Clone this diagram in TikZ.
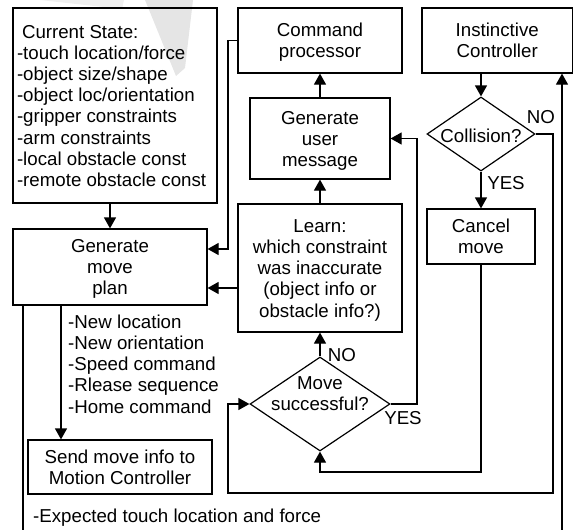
\documentclass[tikz,border=0pt]{standalone}
\usepackage{fontspec}
\setmainfont{Liberation Sans}
\usetikzlibrary{shapes.geometric,arrows.meta}
% box contents: a column of lines, set slightly low inside its frame
\newcommand{\boxlines}[2][c]{\raisebox{-2.5pt}[\height][\depth]{\begin{tabular}{@{}#1@{}}#2\end{tabular}}}
\begin{document}
\begin{tikzpicture}[x=1pt,y=-1pt,
  every node/.style={font=\fontsize{18.7}{21.2}\selectfont},
  box/.style={draw, line width=1.2pt, inner sep=0pt},
  dia/.style={draw, line width=1.2pt, shape=diamond, inner sep=0pt},
  wire/.style={line width=1.2pt},
  arr/.style={wire, -{Triangle[length=11pt,width=12pt]}},
  tag/.style={inner sep=0pt}]
\useasboundingbox (0,0) rectangle (574,530);

% faint check-mark watermark behind everything
\fill[black!6] (40,0) -- (124,0) -- (122,9) -- cycle;
\fill[black!10] (145,0) -- (193,0) -- (185,68) -- (176,76) -- cycle;

% boxes
\node[box, minimum width=204pt, minimum height=195pt] (cs) at (115,105.5)
  {\boxlines[p{196pt}]{\hspace*{5pt}Current State:\\-touch location/force\\-object size/shape\\-object loc/orientation\\-gripper constraints\\-arm constraints\\-local obstacle const\\-remote obstacle const}};
\node[box, minimum width=194pt, minimum height=76pt] (gmp) at (110,267) {\boxlines{Generate\\move\\plan}};
\node[box, minimum width=184pt, minimum height=54pt] (send) at (120,467) {\boxlines{Send move info to\\Motion Controller}};
\node[box, minimum width=164pt, minimum height=65pt] (cp) at (320,40.5) {\boxlines{Command\\processor}};
\node[box, minimum width=150.5pt, minimum height=65pt] (ic) at (497.25,40.5) {\boxlines{Instinctive\\Controller}};
\node[box, minimum width=140pt, minimum height=81pt] (gum) at (320,138.5) {\boxlines{Generate\\user\\message}};
\node[box, minimum width=164pt, minimum height=128pt] (learn) at (320,268) {\boxlines{Learn:\\which constraint\\was inaccurate\\(object info or\\obstacle info?)}};
\node[box, minimum width=108pt, minimum height=55pt] (cancel) at (481,236.5) {\boxlines{Cancel\\move}};

% decisions
\node[dia, minimum width=108pt, minimum height=74pt] (col) at (481,134) {};
\node[tag] (coltext) at (481,136) {Collision?};
\node[dia, minimum width=140pt, minimum height=94pt] (ms) at (320,404) {};
\node[tag, align=center] (mstext) at (320,393.5) {Move\\successful?};

% connector labels
\node[tag] (lno1) at (541,117) {NO};
\node[tag] (lyes1) at (506,183) {YES};
\node[tag] (lno2) at (342,355) {NO};
\node[tag] (lyes2) at (403,418) {YES};
\node[tag, anchor=west, align=left] (plan) at (68,364)
  {-New location\\-New orientation\\-Speed command\\-Rlease sequence\\-Home command};
\node[tag, anchor=west] (expect) at (33,518) {-Expected touch location and force};

% helper points
\coordinate (j1) at (228,249);
\coordinate (r1) at (0,288);
\coordinate (s1) at (61,0);
\coordinate (b1) at (23,530);
\coordinate (b2) at (562,530);
\coordinate (n1) at (553,493);
\coordinate (n2) at (228,493);
\coordinate (y1) at (482,472);
\coordinate (m1) at (417,138.5);

% connectors
\draw[arr] (cs.south -| gmp.north) -- (gmp.north);
\draw[arr] (cp.west) -| (j1) -- (j1 -| gmp.east);
\draw[arr] (learn.west |- r1) -- (gmp.east |- r1);
\draw[arr] (learn.north) -- (gum.south);
\draw[arr] (gum.north) -- (cp.south);
\draw[arr] (ic.south -| col.north) -- (col.north);
\draw[arr] (col.south) -- (col.south |- cancel.north);
\draw[arr] (col.east) -| (n1) -- (n2) |- (ms.west);
\draw[arr] (cancel.south) -- (cancel.south |- y1) -| (ms.south);
\draw[arr] (ms.east) -| (m1) -- (gum.east);
\draw[arr] (ms.north) -- (learn.south);
\draw[arr] (gmp.south -| s1) -- (send.north -| s1);
\draw[wire] (gmp.south -| b1) -- (b1);
\draw[arr] (b2) -- (b2 |- ic.south);
\end{tikzpicture}
\end{document}
